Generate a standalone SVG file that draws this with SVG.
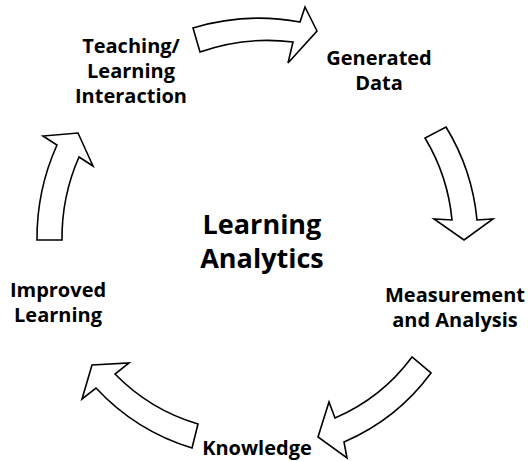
<svg xmlns="http://www.w3.org/2000/svg" width="528" height="461" viewBox="0 0 528 461">
<style>
.lbl{font-family:"Open Sans","Liberation Sans",sans-serif;font-weight:700;font-size:20px;fill:#000;text-anchor:middle}
.big{font-size:27px}
.arr{fill:#fff;stroke:#000;stroke-width:1.6;stroke-linejoin:miter}
</style>
<rect width="528" height="461" fill="#fff"/>
<g id="connectors">
<path class="arr" d="M200,52 A204,204 0 0 1 293,42 L288,63 L317,31 L305,7 L300,22 A227,227 0 0 0 193,28 Z"/>
<path class="arr" d="M425,138 A194,194 0 0 1 452,220 L434,219 L464,240 L493,219 L477,220 A217,217 0 0 0 446,127 Z"/>
<path class="arr" d="M412,357 A188,188 0 0 1 335,418 L329,402 L318,437 L347,458 L344,442 A212,212 0 0 0 431,373 Z"/>
<path class="arr" d="M198,424 A192,192 0 0 1 115,374 L129,363 L92,365 L82,399 L96,388 A217,217 0 0 0 192,448 Z"/>
<path class="arr" d="M62,240 A201,201 0 0 1 79,157 L93,166 L78,133 L43,136 L57,145 A227,227 0 0 0 37,240 Z"/>
</g>
<g id="center"><text class="lbl big" x="262" y="234">Learning</text><text class="lbl big" x="262" y="268">Analytics</text></g>
<g id="teaching"><text class="lbl" x="131" y="53">Teaching/</text><text class="lbl" x="131" y="78">Learning</text><text class="lbl" x="131" y="103">Interaction</text></g>
<g id="generated"><text class="lbl" x="379" y="65">Generated</text><text class="lbl" x="379" y="90">Data</text></g>
<g id="measurement"><text class="lbl" x="455" y="302">Measurement</text><text class="lbl" x="455" y="327">and Analysis</text></g>
<g id="knowledge"><text class="lbl" x="257" y="455">Knowledge</text></g>
<g id="improved"><text class="lbl" x="58" y="297">Improved</text><text class="lbl" x="58" y="322">Learning</text></g>
</svg>
